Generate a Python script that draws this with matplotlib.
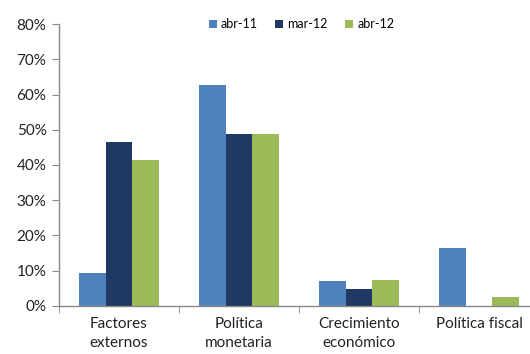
import numpy as np
import matplotlib.pyplot as plt
from matplotlib.ticker import FixedLocator, PercentFormatter

plt.rcParams['font.family'] = ['Lato', 'DejaVu Sans']

categories = ['Factores\nexternos', 'Política\nmonetaria', 'Crecimiento\neconómico', 'Política fiscal']
series_names = ['abr-11', 'mar-12', 'abr-12']
abr_11 = [9.3, 62.7, 7.0, 16.5]
mar_12 = [46.5, 48.8, 4.7, 0.0]
abr_12 = [41.4, 48.8, 7.4, 2.5]
colors = ['#4F81BD', '#1F3864', '#9BBB59']

fig = plt.figure(figsize=(5.3, 3.54), dpi=100)
ax = fig.add_axes([0.1113, 0.1356, 0.9057, 0.7966])

x = np.arange(len(categories))
w = 0.222
for i, (vals, name, c) in enumerate(zip([abr_11, mar_12, abr_12], series_names, colors)):
    ax.bar(x + (i - 1) * w, vals, width=w, color=c, label=name, edgecolor='none')

ax.set_xlim(-0.5, len(categories) - 0.5)
ax.set_ylim(0, 80)
ax.set_yticks(np.arange(0, 81, 10))
ax.yaxis.set_major_formatter(PercentFormatter(decimals=0))

# category labels centered, tick marks between categories
ax.set_xticks(x)
ax.set_xticklabels(categories, fontsize=11, color='#222222', linespacing=1.45)
ax.xaxis.set_minor_locator(FixedLocator(np.arange(-0.5, len(categories), 1.0)))
ax.tick_params(axis='x', which='major', length=0, pad=8)
ax.tick_params(axis='x', which='minor', length=5, color='#888888', direction='out')
ax.tick_params(axis='y', length=5, color='#888888', labelsize=11, labelcolor='#222222', pad=4)

for s in ['top', 'right']:
    ax.spines[s].set_visible(False)
for s in ['left', 'bottom']:
    ax.spines[s].set_color('#888888')
    ax.spines[s].set_linewidth(1.0)

ax.legend(loc='upper center', bbox_to_anchor=(0.505, 1.06), ncol=3, frameon=False,
          fontsize=9, handlelength=0.65, handleheight=0.65, handletextpad=0.35,
          columnspacing=1.35)

fig.savefig('out.png', dpi=100)
